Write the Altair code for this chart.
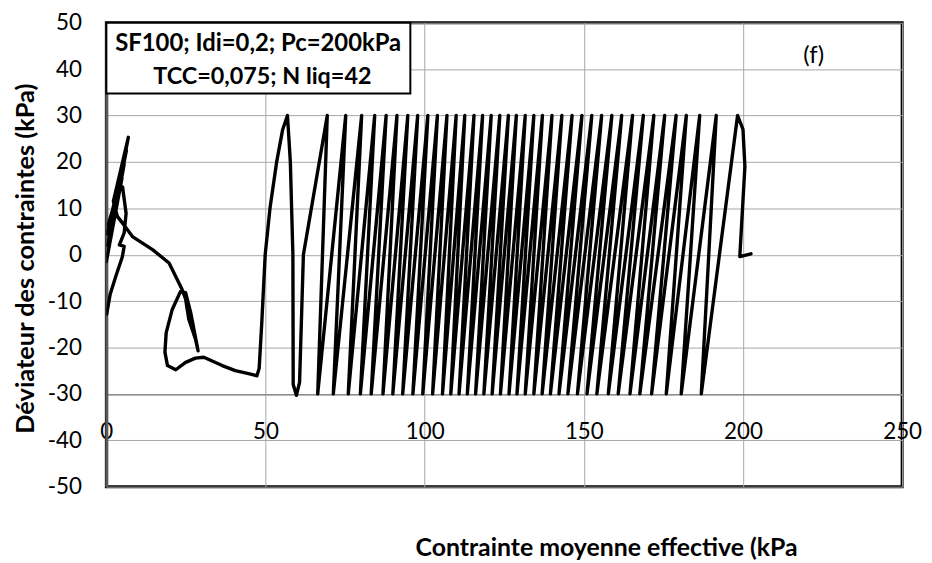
import altair as alt
import pandas as pd

# ---- data (p' in kPa, q in kPa) ----
start_p = [202.5, 199.0, 200.6, 200.0]
start_q = [0.2, -0.4, 19.0, 27.0]

# peaks of the cycles (q = +30), in time order (right to left)
peak_p = [198.3, 191.6, 186.4, 182.2, 179.0, 175.4, 172.0, 168.7, 165.3, 161.9,
          158.8, 155.6, 152.5, 149.4, 146.3, 143.1, 140.0, 137.0, 134.3, 131.6,
          128.8, 126.3, 123.6, 120.9, 118.2, 115.5, 112.6, 109.9, 107.0, 104.0,
          101.0, 97.8, 94.7, 91.3, 87.9, 84.3, 80.2, 75.2, 69.4]
peak_q = [30.0] * len(peak_p)

# troughs of the cycles (q = -30)
bottom_p = [186.9, 180.6, 175.9, 171.3, 167.6, 164.5, 160.8, 157.7, 154.1, 151.0,
            148.0, 145.0, 142.2, 139.5, 136.9, 134.3, 131.6, 129.0, 126.5, 123.8,
            121.2, 118.6, 116.0, 113.4, 110.8, 108.2, 105.6, 102.5, 99.4, 96.3,
            93.1, 90.0, 86.9, 83.2, 79.8, 76.0, 71.3, 66.4]
bottom_q = [-30.0] * len(bottom_p)

# end of the test (liquefaction phase)
tail_p = [61.9, 60.7, 59.7, 58.7, 58.6, 57.8, 56.9, 55.4, 53.5, 51.4, 49.9, 48.8, 48.0,
          47.3, 45.0, 40.5, 36.4, 30.6, 28.0, 24.9, 21.8, 19.2, 18.4, 18.8, 20.7,
          23.3, 24.9, 26.5, 28.5, 28.8, 28.0, 25.9, 24.9, 23.8, 19.7, 14.5, 8.2,
          5.1, 3.5, 2.2, 6.9, 0.4, 6.3, 0.2, 5.6, 0.0, 4.9, 0.6, 4.0, 5.1, 6.2,
          5.6, 4.1, 5.6, 5.0, 3.0, 1.2, 0.1]
tail_q = [0.0, -27.5, -30.3, -28.0, 0.0, 20.0, 30.0, 27.0, 20.0, 10.0, 0.0, -15.0, -24.5,
          -26.1, -25.7, -25.0, -23.9, -22.1, -22.3, -23.2, -24.8, -23.9, -21.0, -16.8, -11.8,
          -7.9, -8.2, -12.5, -19.6, -20.7, -18.2, -13.9, -9.6, -7.5, -1.8, 1.1, 3.9,
          6.8, 8.2, 11.5, 25.3, 2.0, 22.5, 4.5, 19.5, -1.5, 16.5, 6.5, 13.8, 14.6, 8.9,
          4.7, 2.1, 1.8, -0.5, -4.6, -8.5, -12.8]

x_ticks = [0, 50, 100, 150, 200, 250]
y_ticks = [-50, -40, -30, -20, -10, 0, 10, 20, 30, 40, 50]

box_line1 = "SF100; Idi=0,2; Pc=200kPa"
box_line2 = "TCC=0,075; N liq=42"
panel_tag = "(f)"
x_title = "Contrainte moyenne effective (kPa"
y_title = "Déviateur des contraintes (kPa)"

# ---- build path table ----
rows = []
for p, q in zip(start_p, start_q):
    rows.append((p, q))
for i in range(len(peak_p)):
    rows.append((peak_p[i], peak_q[i]))
    if i < len(bottom_p):
        rows.append((bottom_p[i], bottom_q[i]))
for p, q in zip(tail_p, tail_q):
    rows.append((p, q))
df = pd.DataFrame(rows, columns=["p", "q"])
df["order"] = range(len(df))

FONT = "Lato"

xscale = alt.Scale(domain=[0, 250], nice=False, zero=False)
yscale = alt.Scale(domain=[-50, 50], nice=False, zero=False)

x_enc = alt.X("p:Q", scale=xscale,
              axis=alt.Axis(values=x_ticks, title=x_title, grid=True, gridColor="#a6a6a6",
                            gridWidth=1, offset=-93, ticks=False, domainColor="#8c8c8c",
                            domainWidth=1.5, labelPadding=27, labelFontSize=22.5,
                            labelFont=FONT, labelColor="#000000", labelFlush=False,
                            labelAlign="center", labelBound=False, labelOverlap=False,
                            labelExpr="'' + datum.value",
                            titleFont=FONT, titleFontSize=25, titleFontWeight="bold",
                            titleColor="#000000", titleX=503, titleY=162,
                            titleBaseline="alphabetic", titleAlign="center",
                            titleAnchor="middle"))
y_enc = alt.Y("q:Q", scale=yscale,
              axis=alt.Axis(values=y_ticks, title=y_title, grid=True, gridColor="#a6a6a6",
                            gridWidth=1, ticks=False, domainColor="#595959", domainWidth=3,
                            labelPadding=25, labelFontSize=22.5, labelFont=FONT,
                            labelColor="#000000", labelFlush=False, labelOverlap=False,
                            labelExpr="'' + datum.value",
                            titleFont=FONT, titleFontSize=25.5, titleFontWeight="bold",
                            titleColor="#000000", titleX=-81, titleY=237, titleAngle=270,
                            titleBaseline="middle", titleAlign="center"))

curve = alt.Chart(df).mark_line(color="#000000", strokeWidth=3.4, strokeJoin="round",
                                strokeCap="round", clip=True).encode(
    x=x_enc, y=y_enc, order="order:Q")

box = alt.Chart(pd.DataFrame({"a": [0]})).mark_rect(
    fill="#ffffff", stroke="#000000", strokeWidth=2).encode(
    x=alt.datum(0), x2=alt.datum(95.5), y=alt.datum(50), y2=alt.datum(34.75))

txt1 = alt.Chart(pd.DataFrame({"t": [box_line1]})).mark_text(
    font=FONT, fontSize=24, fontWeight="bold", color="#000000", baseline="middle",
    align="center").encode(x=alt.datum(47.7), y=alt.datum(45.5), text="t:N")
txt2 = alt.Chart(pd.DataFrame({"t": [box_line2]})).mark_text(
    font=FONT, fontSize=23.5, fontWeight="bold", color="#000000", baseline="middle",
    align="center").encode(x=alt.datum(49.0), y=alt.datum(38.2), text="t:N")
tag = alt.Chart(pd.DataFrame({"t": [panel_tag]})).mark_text(
    font=FONT, fontSize=24, color="#000000", baseline="middle",
    align="center").encode(x=alt.datum(222.2), y=alt.datum(42.8), text="t:N")

chart = alt.layer(curve, box, txt1, txt2, tag).properties(
    width=801, height=467,
    autosize=alt.AutoSizeParams(type="none"),
    padding={"left": 99, "top": 13, "right": 22, "bottom": 74},
    background="#ffffff",
).configure_view(stroke="#000000", strokeWidth=3)

chart.save("out.html", embed_options={"renderer": "svg", "actions": False})
